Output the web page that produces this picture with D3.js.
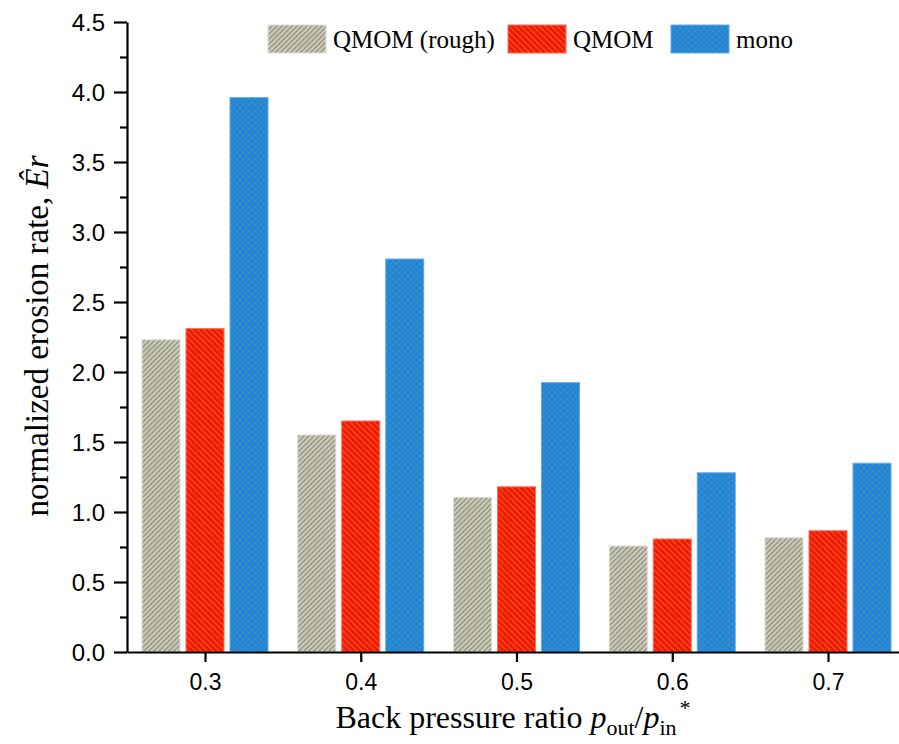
<!DOCTYPE html>
<meta charset="utf-8">
<style>
    body { margin: 0; background: #fff; }
    .tick text { font-family: "Liberation Sans", Arial, sans-serif; fill: #000; }
    .domain, .tick line { stroke: #000; stroke-width: 2.2; }
    .title { font-family: "Liberation Serif", "Times New Roman", serif; fill: #000; }
</style>
<svg width="899" height="744"></svg>
<script src="https://cdn.jsdelivr.net/npm/d3@7"></script>
<script>

    var ratios = [0.3, 0.4, 0.5, 0.6, 0.7];
    var seriesNames = ["QMOM (rough)", "QMOM", "mono"];
    var rough = [2.23, 1.55, 1.105, 0.757, 0.816];
    var qmom = [2.31, 1.65, 1.18, 0.807, 0.866];
    var mono = [3.96, 2.807, 1.924, 1.28, 1.348];
    var yTicks = [0, 0.5, 1, 1.5, 2, 2.5, 3, 3.5, 4, 4.5];

    var series = [rough, qmom, mono];

    var svg = d3.select("svg");

    // plot box (named so they do not clash with window.top)
    var pLeft = 127, pRight = 899, pTop = 22, pBottom = 652;

    // 0.3 sits at x=205, 0.7 at x=828
    var per = (828 - 205) / 0.4;
    var x = d3.scaleLinear()
        .domain([0.3 - (205 - pLeft) / per, 0.3 + (pRight - 205) / per])
        .range([pLeft, pRight]);

    var y = d3.scaleLinear().domain([0, 4.5]).range([pBottom, pTop]);

    var barW = 38, offs = [-44, 0, 44];

    // hatch patterns
    var defs = svg.append("defs");

    var pGray = defs.append("pattern").attr("id", "p0")
        .attr("patternUnits", "userSpaceOnUse").attr("width", 5).attr("height", 5);
    pGray.append("rect").attr("width", 5).attr("height", 5).attr("fill", "#c7c7bc");
    pGray.append("path").attr("d", "M-1,6 L6,-1 M-1,1 L1,-1 M4,6 L6,4")
        .attr("stroke", "#8e8e6c").attr("stroke-width", 1.1);

    var pRed = defs.append("pattern").attr("id", "p1")
        .attr("patternUnits", "userSpaceOnUse").attr("width", 6).attr("height", 6);
    pRed.append("rect").attr("width", 6).attr("height", 6).attr("fill", "#ff1200");
    pRed.append("path").attr("d", "M-1,-1 L7,7 M-1,5 L1,7 M5,-1 L7,1")
        .attr("stroke", "#c9672f").attr("stroke-width", 1.2);

    var pBlue = defs.append("pattern").attr("id", "p2")
        .attr("patternUnits", "userSpaceOnUse").attr("width", 6).attr("height", 6);
    pBlue.append("rect").attr("width", 6).attr("height", 6).attr("fill", "#1887ea");
    pBlue.append("path").attr("d", "M-1,-1 L7,7 M-1,5 L1,7 M5,-1 L7,1 M-1,7 L7,-1 M-1,1 L1,-1 M5,7 L7,5")
        .attr("stroke", "#4f8aa0").attr("stroke-width", 1);

    var edge = ["#dcdcd4", "#ff6a5a", "#5aaaf2"];

    // bars
    series.forEach(function(vals, s) {
        svg.append("g").selectAll("rect")
            .data(vals)
            .enter().append("rect")
            .attr("x", function(d, i) { return x(ratios[i]) + offs[s] - barW / 2; })
            .attr("y", function(d) { return y(d); })
            .attr("width", barW)
            .attr("height", function(d) { return y(0) - y(d); })
            .attr("fill", "url(#p" + s + ")")
            .attr("stroke", edge[s])
            .attr("stroke-width", 1);
    });

    // axes
    var yMinor = d3.range(0.25, 4.5, 0.5);
    svg.append("g").attr("transform", "translate(" + pLeft + ",0)")
        .call(d3.axisLeft(y).tickValues(yMinor).tickSize(7).tickFormat(""))
        .select(".domain").remove();
    var yAxis = svg.append("g").attr("transform", "translate(" + pLeft + ",0)")
        .call(d3.axisLeft(y).tickValues(yTicks).tickSize(13).tickSizeOuter(0).tickPadding(9)
            .tickFormat(d3.format(".1f")));
    yAxis.attr("font-size", 24);
    yAxis.selectAll(".tick text").attr("dy", "0.36em");

    var xAxis = svg.append("g").attr("transform", "translate(0," + pBottom + ")")
        .call(d3.axisBottom(x).tickValues(ratios).tickSize(10).tickSizeOuter(0).tickPadding(12)
            .tickFormat(d3.format(".1f")));
    xAxis.attr("font-size", 23);

    // axis titles
    var xt = svg.append("text").attr("class", "title")
        .attr("x", 513).attr("y", 728).attr("text-anchor", "middle")
        .attr("font-size", 32);
    xt.append("tspan").text("Back pressure ratio ");
    xt.append("tspan").attr("font-style", "italic").text("p");
    xt.append("tspan").attr("font-size", 22).attr("dy", 7).text("out");
    xt.append("tspan").attr("dy", -7).text("/");
    xt.append("tspan").attr("font-style", "italic").text("p");
    xt.append("tspan").attr("font-size", 22).attr("dy", 7).text("in");
    xt.append("tspan").attr("font-size", 22).attr("dx", 3).attr("dy", -20).text("*");

    var yt = svg.append("text").attr("class", "title")
        .attr("transform", "translate(48,336) rotate(-90)")
        .attr("text-anchor", "middle").attr("font-size", 33);
    yt.append("tspan").text("normalized erosion rate, ");
    yt.append("tspan").attr("font-style", "italic").text("Êr");

    // legend
    var lx = [268, 508, 671];
    var legend = svg.append("g").selectAll("g")
        .data(seriesNames)
        .enter().append("g")
        .attr("transform", function(d, i) { return "translate(" + lx[i] + ",25)"; });
    legend.append("rect")
        .attr("width", 58).attr("height", 28)
        .attr("fill", function(d, i) { return "url(#p" + i + ")"; })
        .attr("stroke", function(d, i) { return edge[i]; });
    legend.append("text").attr("class", "title")
        .attr("x", 65).attr("y", 23).attr("font-size", 25)
        .text(function(d) { return d; });

</script>
